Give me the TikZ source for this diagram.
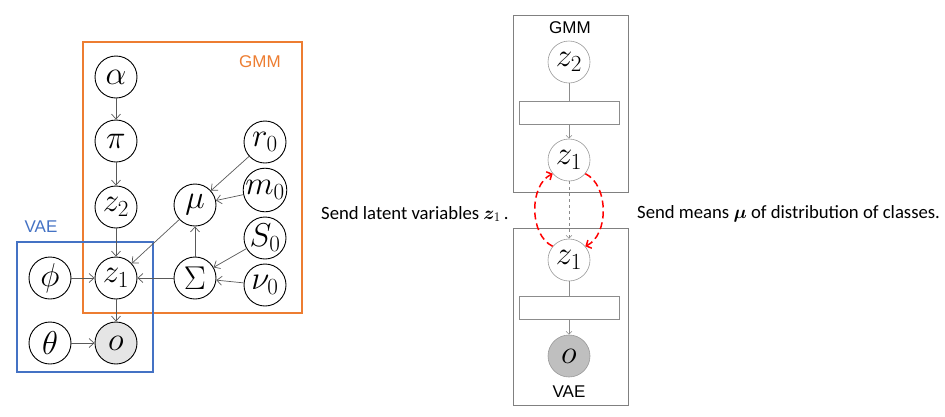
\RequirePackage{fix-cm}
\documentclass[tikz,border=0pt]{standalone}
\usepackage{fontspec}
\usepackage{amsmath,bm}
\setmainfont{Carlito}
\newfontfamily\lblfont{Liberation Sans}
\usetikzlibrary{arrows.meta}
\definecolor{gmmorange}{HTML}{ED7D31}
\definecolor{vaeblue}{HTML}{4472C4}
\begin{document}
\begin{tikzpicture}[x=1pt,y=-1pt,
 var/.style={circle,draw=black,line width=0.9pt,minimum size=42pt,inner sep=0pt,font=\fontsize{33}{35}\selectfont},
 edge/.style={draw=black!65,line width=0.7pt,-{Straight Barb[length=5pt,width=9pt]}},
 rvar/.style={circle,draw=black!40,line width=0.6pt,minimum size=42pt,inner sep=0pt,font=\fontsize{33}{35}\selectfont},
 rbox/.style={draw=black!45,line width=0.6pt,minimum width=100pt,minimum height=23pt,inner sep=0pt},
 redge/.style={draw=black!45,line width=0.6pt},
 rarrow/.style={redge,-{Straight Barb[length=3pt,width=6pt]}},
 redarc/.style={draw=red,line width=1.5pt,dash pattern=on 7pt off 4pt,-{Straight Barb[length=4pt,width=9pt]}},
 frame/.style={draw=black!50,line width=0.7pt},
 lbl/.style={font=\lblfont\fontsize{17}{19}\selectfont,inner sep=0pt},
 txt/.style={font=\fontsize{18.7}{21}\selectfont,anchor=west,inner sep=0pt}
]
\useasboundingbox (0,0) rectangle (945,416);
% left frames
\draw[gmmorange,line width=1.1pt] (83,42) rectangle (302,313);
\draw[vaeblue,line width=1.1pt] (17,242) rectangle (153,372);
\node[lbl,text=gmmorange] (gmmL) at (260,62) {GMM};
\node[lbl,text=vaeblue] (vaeL) at (41,227) {VAE};
% left nodes
\node[var] (alpha) at (116,77) {$\alpha$};
\node[var] (pi) at (116,141) {$\pi$};
\node[var] (z2) at (116,207) {$z_2$};
\node[var] (z1) at (116,278) {$z_1$};
\node[var,fill=black!10] (o) at (116,343) {$o$};
\node[var] (phi) at (50,278) {$\phi$};
\node[var] (theta) at (50,343) {$\theta$};
\node[var] (mu) at (195,205) {$\mu$};
\node[var] (Sigma) at (195,278) {$\Sigma$};
\node[var] (r0) at (265,142) {$r_0$};
\node[var] (m0) at (265,190) {$m_0$};
\node[var] (S0) at (265,238) {$S_0$};
\node[var] (nu0) at (265,285) {$\nu_0$};
\draw[edge] (alpha) -- (pi);
\draw[edge] (pi) -- (z2);
\draw[edge] (z2) -- (z1);
\draw[edge] (z1) -- (o);
\draw[edge] (phi) -- (z1);
\draw[edge] (theta) -- (o);
\draw[edge] (Sigma) -- (z1);
\draw[edge] (mu) -- (z1);
\draw[edge] (Sigma) -- (mu);
\draw[edge] (r0) -- (mu);
\draw[edge] (m0) -- (mu);
\draw[edge] (S0) -- (Sigma);
\draw[edge] (nu0) -- (Sigma);
% right side
\draw[frame] (513,15) rectangle (628,192);
\draw[frame] (513,228) rectangle (628,405);
\node[lbl] (gmmR) at (570,28) {GMM};
\node[lbl] (vaeR) at (569,392) {VAE};
\node[rvar] (rz2) at (569,62) {$z_2$};
\node[rbox] (rb1) at (569,112.5) {};
\node[rvar] (rz1t) at (569,160) {$z_1$};
\node[rvar] (rz1b) at (569,260) {$z_1$};
\node[rbox] (rb2) at (569,308) {};
\node[rvar,fill=black!25] (ro) at (569,356) {$o$};
\draw[redge] (rz2) -- (rb1);
\draw[rarrow] (rb1) -- (rz1t);
\draw[rarrow,dashed] (rz1t) -- (rz1b);
\draw[redge] (rz1b) -- (rb2);
\draw[rarrow] (rb2) -- (ro);
\draw[redarc] (rz1b.140) .. controls (529,235) and (529,185) .. (rz1t.-140);
\draw[redarc] (rz1t.-40) .. controls (609,185) and (609,235) .. (rz1b.40);
% texts
\node[txt] (t1) at (321,214) {Send latent variables $\bm{z}_1$\,.};
\node[txt] (t2) at (637,214) {Send means $\bm{\mu}$ of distribution of classes.};
\end{tikzpicture}
\end{document}
